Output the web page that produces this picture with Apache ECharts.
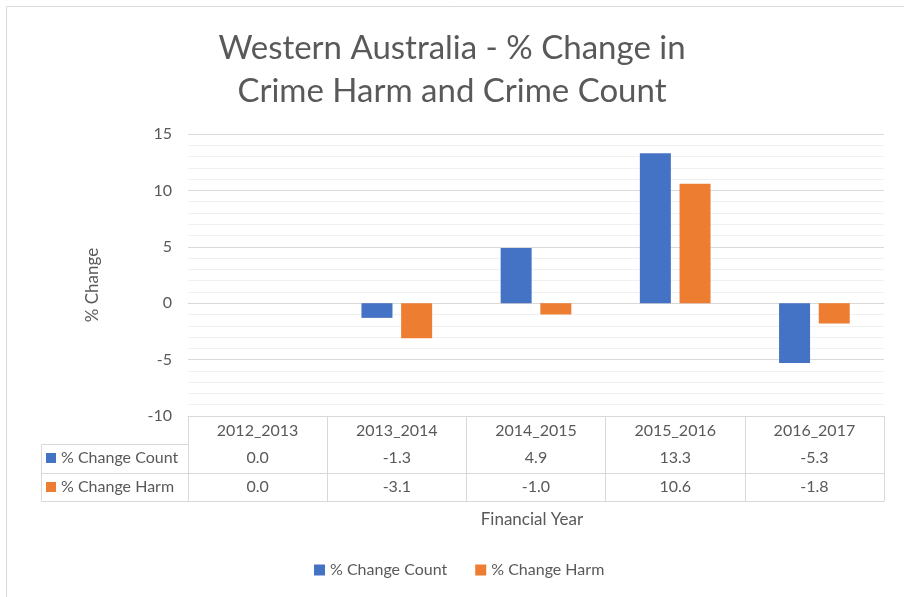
<!DOCTYPE html>
<html>
<head>
<meta charset="utf-8">
<script src="https://cdn.jsdelivr.net/npm/echarts@6/dist/echarts.min.js"></script>
<style>
  html, body { margin: 0; padding: 0; background: #fff; }
  #chart { width: 904px; height: 597px; }
</style>
</head>
<body>
<div id="chart"></div>
<script>
var years = ['2012_2013', '2013_2014', '2014_2015', '2015_2016', '2016_2017'];
var countChange = [0.0, -1.3, 4.9, 13.3, -5.3];
var harmChange = [0.0, -3.1, -1.0, 10.6, -1.8];
var seriesNames = ['% Change Count', '% Change Harm'];
var colors = ['#4472c4', '#ed7d31'];

var FONT = 'Lato';
var TEXT = '#595959';
var LINE = '#d9d9d9';

// plot area and data table layout
var gridLeft = 188, gridTop = 134, gridRight = 20, gridBottom = 181;
var rowTop = [0, 28, 57, 85]; // offsets of table lines below the plot
var tableLeft = 41;
var plotBottom = 597 - gridBottom;

var myChart = echarts.init(document.getElementById('chart'));

function tableAxis(offset, labels) {
  return {
    type: 'category',
    data: years,
    position: 'bottom',
    offset: offset,
    axisLine: { show: true, lineStyle: { color: LINE, width: 1 } },
    axisTick: { show: false },
    axisLabel: {
      show: !!labels,
      margin: 6,
      fontFamily: FONT,
      fontSize: 16,
      color: TEXT,
      formatter: function (v, i) { return labels ? labels[i].toFixed(1) : ''; }
    }
  };
}

var option = {
  animation: false,
  color: colors,
  title: {
    text: 'Western Australia - % Change in\nCrime Harm and Crime Count',
    left: 'center',
    top: 22,
    textStyle: {
      fontFamily: FONT,
      fontSize: 33,
      fontWeight: 'normal',
      color: TEXT,
      lineHeight: 43
    }
  },
  legend: [{
    data: seriesNames,
    orient: 'vertical',
    left: 46,
    top: plotBottom + rowTop[1] + 4,
    padding: 0,
    icon: 'rect',
    itemWidth: 10,
    itemHeight: 10,
    itemGap: 9,
    selectedMode: false,
    textStyle: { fontFamily: FONT, fontSize: 16, color: TEXT, lineHeight: 20 }
  }, {
    data: seriesNames,
    top: 560,
    left: 314,
    padding: 0,
    icon: 'rect',
    itemWidth: 11,
    itemHeight: 11,
    itemGap: 28,
    selectedMode: false,
    textStyle: { fontFamily: FONT, fontSize: 16, color: TEXT, lineHeight: 20 }
  }],
  grid: {
    left: gridLeft,
    right: gridRight,
    top: gridTop,
    bottom: gridBottom,
    containLabel: false
  },
  xAxis: [{
    type: 'category',
    data: years,
    position: 'bottom',
    name: 'Financial Year',
    nameLocation: 'middle',
    nameGap: 95,
    nameTextStyle: { fontFamily: FONT, fontSize: 17, color: TEXT, padding: [0, 8, 0, 0] },
    axisLine: { show: true, onZero: false, lineStyle: { color: LINE, width: 1 } },
    axisTick: {
      show: true,
      interval: 0,
      length: rowTop[3],
      lineStyle: { color: LINE, width: 1 }
    },
    axisLabel: { margin: 7, interval: 0, fontFamily: FONT, fontSize: 16, color: TEXT }
  },
    tableAxis(rowTop[1], countChange),
    tableAxis(rowTop[2], harmChange),
    tableAxis(rowTop[3], null)
  ],
  yAxis: {
    type: 'value',
    min: -10,
    max: 15,
    interval: 5,
    name: '% Change',
    nameLocation: 'middle',
    nameGap: 87,
    nameTextStyle: { fontFamily: FONT, fontSize: 17, color: TEXT, padding: [0, 20, 0, 0] },
    axisLine: { show: false },
    axisTick: { show: false },
    axisLabel: { margin: 16, fontFamily: FONT, fontSize: 16, color: TEXT },
    splitLine: { lineStyle: { color: LINE, width: 1 } },
    minorTick: { show: false, splitNumber: 5 },
    minorSplitLine: { show: true, lineStyle: { color: '#f0f0f0', width: 1 } }
  },
  series: [{
    name: seriesNames[0],
    type: 'bar',
    data: countChange,
    barWidth: 31,
    barGap: '28%',
    itemStyle: { color: colors[0] }
  }, {
    name: seriesNames[1],
    type: 'bar',
    data: harmChange,
    barWidth: 31,
    barGap: '28%',
    itemStyle: { color: colors[1] }
  }],
  graphic: [{
    type: 'rect',
    silent: true,
    shape: { x: 6.5, y: 6.5, width: 1000, height: 1000 },
    style: { fill: 'none', stroke: LINE, lineWidth: 1 }
  }, {
    type: 'polyline',
    silent: true,
    shape: {
      points: [
        [gridLeft, plotBottom + rowTop[1] + 0.5],
        [tableLeft + 0.5, plotBottom + rowTop[1] + 0.5],
        [tableLeft + 0.5, plotBottom + rowTop[3] + 0.5],
        [gridLeft, plotBottom + rowTop[3] + 0.5]
      ]
    },
    style: { fill: 'none', stroke: LINE, lineWidth: 1 }
  }, {
    type: 'line',
    silent: true,
    shape: {
      x1: tableLeft, y1: plotBottom + rowTop[2] + 0.5,
      x2: gridLeft, y2: plotBottom + rowTop[2] + 0.5
    },
    style: { stroke: LINE, lineWidth: 1 }
  }]
};

myChart.setOption(option);
</script>
</body>
</html>
